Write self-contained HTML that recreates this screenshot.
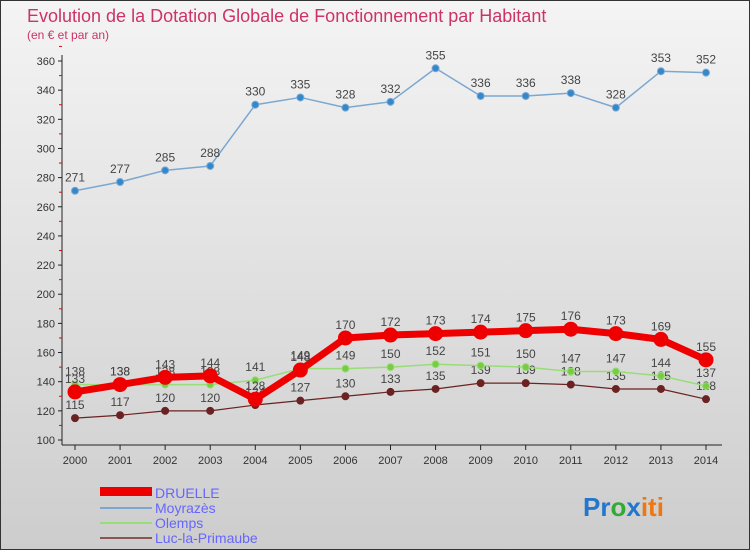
<!DOCTYPE html>
<html><head><meta charset="utf-8"><style>
body{margin:0;width:750px;height:550px;overflow:hidden;font-family:"Liberation Sans","DejaVu Sans",sans-serif}
svg text{font-family:"Liberation Sans","DejaVu Sans",sans-serif}
</style></head><body>
<svg id="c" width="750" height="550">
<defs><linearGradient id="bg" x1="0" y1="0" x2="0" y2="1"><stop offset="0" stop-color="#f4f4f4"/><stop offset="1" stop-color="#cdcdcd"/></linearGradient></defs>
<rect x="0.5" y="0.5" width="749" height="549" fill="url(#bg)" stroke="#333"/>
<text x="27" y="22" font-size="18" fill="#cc3366">Evolution de la Dotation Globale de Fonctionnement par Habitant</text>
<text x="27" y="39" font-size="12" fill="#cc3366">(en € et par an)</text>
<g id="axes"></g><g id="series"></g>
<g>
<rect x="100" y="487" width="52" height="9" fill="#e00"/>
<text x="155" y="498" font-size="14" fill="#6666ff">DRUELLE</text>
<line x1="100" y1="508" x2="152" y2="508" stroke="#7ba7d0" stroke-width="2"/>
<text x="155" y="513" font-size="14" fill="#6666ff">Moyrazès</text>
<line x1="100" y1="523" x2="152" y2="523" stroke="#99dd77" stroke-width="2"/>
<text x="155" y="528" font-size="14" fill="#6666ff">Olemps</text>
<line x1="100" y1="538" x2="152" y2="538" stroke="#8b5555" stroke-width="2"/>
<text x="155" y="543" font-size="14" fill="#6666ff">Luc-la-Primaube</text>
</g>
<text x="583" y="516" font-size="26" font-weight="bold"><tspan fill="#2277cc">Pr</tspan><tspan fill="#33aa33">o</tspan><tspan fill="#2277cc">x</tspan><tspan fill="#ee7711">iti</tspan></text>
</svg>
<script>
const years=[2000,2001,2002,2003,2004,2005,2006,2007,2008,2009,2010,2011,2012,2013,2014];
const yTicks=[100,120,140,160,180,200,220,240,260,280,300,320,340,360];
const druelle=[133,138,143,144,128,148,170,172,173,174,175,176,173,169,155];
const moyrazes=[271,277,285,288,330,335,328,332,355,336,336,338,328,353,352];
const olemps=[138,138,138,138,141,149,149,150,152,151,150,147,147,144,137];
const luc=[115,117,120,120,124,127,130,133,135,139,139,138,135,135,128];
const NS='http://www.w3.org/2000/svg';
const X=i=>75+i*(706-75)/(years.length-1);
const Y=v=>440-(v-100)*(440-61)/260;
function mk(t,a,p){const e=document.createElementNS(NS,t);for(const k in a)e.setAttribute(k,a[k]);p.appendChild(e);return e;}
const ax=document.getElementById('axes');
const yl=mk('line',{x1:62,y1:55,x2:62,y2:445,stroke:'#222'},ax);


const xl=mk('line',{x1:62,y1:445,x2:722,y2:445,stroke:'#222'},ax);


yTicks.forEach(v=>{
 mk('line',{x1:58,y1:Y(v),x2:62,y2:Y(v),stroke:'#222'},ax);
 mk('line',{x1:59,y1:Y(v+10),x2:62,y2:Y(v+10),stroke:'#e00'},ax);
 const t=mk('text',{x:55,y:Y(v)+4,'font-size':11,'text-anchor':'end',fill:'#333'},ax);t.textContent=v;
 
 
});
years.forEach((yr,i)=>{
 mk('line',{x1:X(i),y1:445,x2:X(i),y2:450,stroke:'#222'},ax);
 const t=mk('text',{x:X(i),y:464,'font-size':11,'text-anchor':'middle',fill:'#333'},ax);t.textContent=yr;
 
 
});
const sg=document.getElementById('series');
function draw(data,name,color,w,r,dot){
 const g=mk('g',{},sg);
 
 
 const pl=mk('polyline',{points:data.map((v,i)=>X(i)+','+Y(v)).join(' '),fill:'none',stroke:color,'stroke-width':w,'stroke-linejoin':'round'},g);
 
 
 data.forEach((v,i)=>{
  const c=mk('circle',{cx:X(i),cy:Y(v),r:r,fill:dot,stroke:color,'stroke-width':1},g);
  
  
  const t=mk('text',{x:X(i),y:Y(v)-9,'font-size':12,'text-anchor':'middle',fill:'#444'},g);t.textContent=v;
  
  
 });
}
draw(luc,'luc','#6b2222',1.2,3.5,'#6b2222');
draw(olemps,'olemps','#99dd77',1.5,3.5,'#77cc44');
draw(moyrazes,'moyrazes','#7ba7d0',1.5,3.5,'#3388cc');
draw(druelle,'druelle','#ee0000',7,7,'#ee0000');
</script>
</body></html>
